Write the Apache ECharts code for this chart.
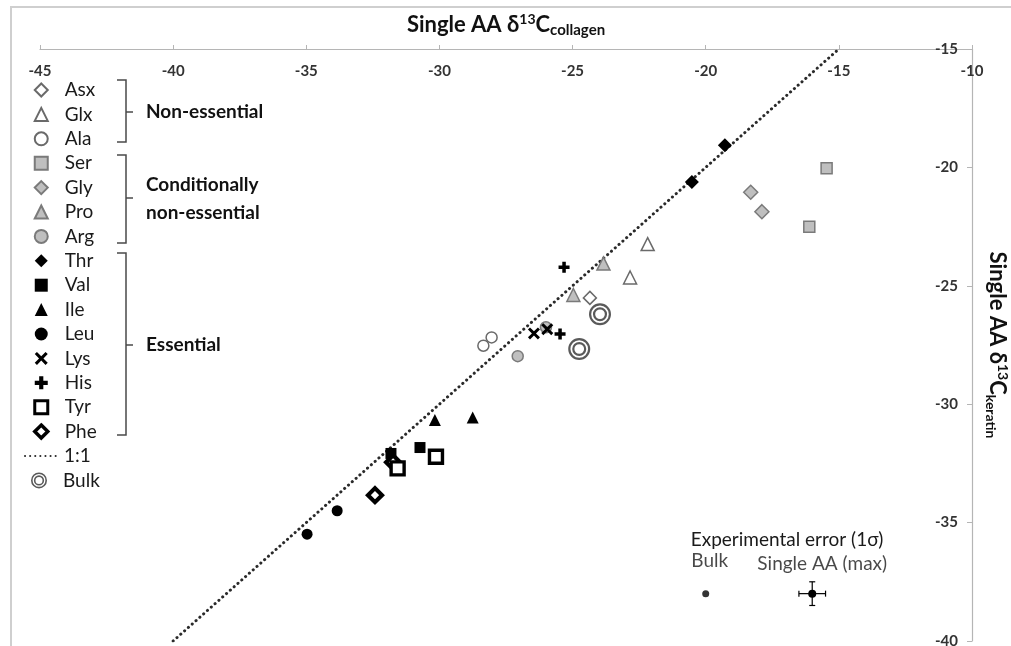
<!DOCTYPE html>
<html>
<head>
<meta charset="utf-8">
<script src="https://cdn.jsdelivr.net/npm/echarts@6/dist/echarts.min.js"></script>
<style>html,body{margin:0;padding:0;background:#fff}#c{width:1011px;height:646px}</style>
</head>
<body>
<div id="c"></div>
<script>
// ---- data (x = collagen δ13C, y = keratin δ13C) ----
const xTicks = [-45, -40, -35, -30, -25, -20, -15, -10];
const yTicks = [-40, -35, -30, -25, -20, -15];
const asx = [[-24.35, -25.51]];
const glx = [[-22.18, -23.24], [-22.84, -24.65]];
const ala = [[-28.35, -27.53], [-28.04, -27.18]];
const ser = [[-15.46, -20.04], [-16.11, -22.51]];
const gly = [[-18.31, -21.05], [-17.89, -21.87]];
const pro = [[-23.84, -24.06], [-24.97, -25.39]];
const arg = [[-27.06, -27.97], [-26.0, -26.75]];
const thr = [[-19.28, -19.06], [-20.52, -20.62]];
const val = [[-30.73, -31.83], [-31.82, -32.08]];
const ile = [[-30.17, -30.67], [-28.75, -30.56]];
const leu = [[-33.84, -34.50], [-34.97, -35.49]];
const lys = [[-26.45, -27.01], [-25.95, -26.83]];
const his = [[-25.32, -24.22], [-25.47, -27.04]];
const tyr = [[-30.13, -32.22], [-31.57, -32.71]];
const phe = [[-32.42, -33.84], [-31.74, -32.45]];
const bulk = [[-23.97, -26.20], [-24.75, -27.67]];
const oneToOne = [[-40, -40], [-15, -15]];
const errBulk = [[-20, -38]];
const errAA = [[-16, -38, 0.5, 0.5]]; // x, y, xErr, yErr
const aaNames = ['Asx','Glx','Ala','Ser','Gly','Pro','Arg','Thr','Val','Ile','Leu','Lys','His','Tyr','Phe'];
const lineName = '1:1';
const bulkName = 'Bulk';

const FONT = 'Lato, "Open Sans", sans-serif';
const GRAY = '#bfbfbf', GBORDER = '#7a7a7a', OBORDER = '#6a6a6a';
const X_PATH = 'path://M1.7,0 L5,3.3 L8.3,0 L10,1.7 L6.7,5 L10,8.3 L8.3,10 L5,6.7 L1.7,10 L0,8.3 L3.3,5 L0,1.7 Z';
const PLUS_PATH = 'path://M3.4,0 H6.6 V3.4 H10 V6.6 H6.6 V10 H3.4 V6.6 H0 V3.4 H3.4 Z';
const RING_PATH = 'path://M0,10 A10,10 0 1,1 20,10 A10,10 0 1,1 0,10 Z M2,10 A8,8 0 1,0 18,10 A8,8 0 1,0 2,10 Z M3.6,10 A6.4,6.4 0 1,1 16.4,10 A6.4,6.4 0 1,1 3.6,10 Z M5.6,10 A4.4,4.4 0 1,0 14.4,10 A4.4,4.4 0 1,0 5.6,10 Z';

function sc(name, data, symbol, size, fill, border, bw, z) {
  return {
    name, type: 'scatter', data, symbol, symbolSize: size, symbolKeepAspect: true,
    itemStyle: { color: fill, borderColor: border, borderWidth: bw, opacity: 1 },
    emphasis: { disabled: true }, z: z || 3
  };
}

const series = [
  {
    name: lineName, type: 'line', data: oneToOne, symbol: 'none', z: 2,
    itemStyle: { color: '#303030' },
    lineStyle: { color: '#2a2a2a', width: 3, type: [0.1, 5], cap: 'round' }
  },
  sc('Ser', ser, 'rect', 11, GRAY, GBORDER, 1.5),
  sc('Gly', gly, 'diamond', 14, GRAY, GBORDER, 1.5),
  sc('Glx', glx, 'triangle', 13, '#fff', OBORDER, 1.5),
  sc('Pro', pro, 'triangle', 13, GRAY, GBORDER, 1.5),
  sc('Asx', asx, 'diamond', 13, '#fff', OBORDER, 1.5),
  sc('Ala', ala, 'circle', 11, '#fff', OBORDER, 1.5),
  sc('Arg', arg, 'circle', 11, GRAY, GBORDER, 1.5),
  sc(bulkName, bulk, RING_PATH, 22, '#5a5a5a', null, 0),
  sc('Thr', thr, 'diamond', 14, '#000', null, 0),
  sc('Val', val, 'rect', 11, '#000', null, 0),
  sc('Ile', ile, 'triangle', 12, '#000', null, 0),
  sc('Leu', leu, 'circle', 11, '#000', null, 0),
  sc('Lys', lys, X_PATH, 12, '#000', null, 0),
  sc('His', his, PLUS_PATH, 11, '#000', null, 0),
  sc('Phe', phe, 'diamond', 14, '#fff', '#000', 4.2),
  sc('Tyr', tyr, 'rect', 13, '#fff', '#000', 3.4),
  {
    name: 'errBulk', type: 'scatter', data: errBulk, symbol: 'circle', symbolSize: 7,
    itemStyle: { color: '#000' },
    label: { show: true, formatter: 'Bulk', position: 'top', distance: 20, offset: [4, 0], color: '#1a1a1a', fontSize: 19, fontFamily: FONT }
  },
  {
    name: 'errAABars', type: 'custom', data: errAA, z: 4,
    renderItem: function (params, api) {
      const x = api.value(0), y = api.value(1), ex = api.value(2), ey = api.value(3);
      const l = api.coord([x - ex, y]), r = api.coord([x + ex, y]);
      const t = api.coord([x, y + ey]), b = api.coord([x, y - ey]);
      const cap = 3, st = { stroke: '#000', lineWidth: 1.2 };
      return {
        type: 'group', children: [
          { type: 'line', shape: { x1: l[0], y1: l[1], x2: r[0], y2: r[1] }, style: st },
          { type: 'line', shape: { x1: l[0], y1: l[1] - cap, x2: l[0], y2: l[1] + cap }, style: st },
          { type: 'line', shape: { x1: r[0], y1: r[1] - cap, x2: r[0], y2: r[1] + cap }, style: st },
          { type: 'line', shape: { x1: t[0], y1: t[1], x2: b[0], y2: b[1] }, style: st },
          { type: 'line', shape: { x1: t[0] - cap, y1: t[1], x2: t[0] + cap, y2: t[1] }, style: st },
          { type: 'line', shape: { x1: b[0] - cap, y1: b[1], x2: b[0] + cap, y2: b[1] }, style: st },
          { type: 'circle', shape: { cx: l[0] + (r[0] - l[0]) / 2, cy: l[1], r: 4 }, style: { fill: '#000' } }
        ]
      };
    }
  },
  {
    name: 'errAALabel', type: 'scatter', data: errAA.map(d => [d[0], d[1]]), symbolSize: 1,
    itemStyle: { color: 'rgba(0,0,0,0)' },
    label: { show: true, formatter: 'Single AA (max)', position: 'top', distance: 20, offset: [10, 0], color: '#1a1a1a', fontSize: 19, fontFamily: FONT }
  }
];

const chart = echarts.init(document.getElementById('c'), null, { renderer: 'canvas' });

const bracket = (yTop, yBot) => ({
  type: 'polyline', silent: true,
  shape: { points: [[117, yTop], [126, yTop], [126, yBot], [117, yBot]] },
  style: { stroke: '#4a4a4a', lineWidth: 1.5, fill: null }
});
const tick = (yMid) => ({
  type: 'line', silent: true,
  shape: { x1: 126, y1: yMid, x2: 133, y2: yMid },
  style: { stroke: '#4a4a4a', lineWidth: 1.5 }
});
const gtext = (x, y, text, opts) => Object.assign({
  type: 'text', silent: true, x, y,
  style: Object.assign({ text, fill: '#111', font: 'bold 19px ' + FONT, textVerticalAlign: 'middle', textAlign: 'left' }, opts || {})
});

const legendText = { fontSize: 19, color: '#1a1a1a', fontFamily: FONT };
const ROW = 24.4, ROW0 = 90;
const legendAA = aaNames.map(n => {
  if (n === 'Tyr') return { name: n, itemStyle: { color: '#fff', borderColor: '#000', borderWidth: 3 } };
  if (n === 'Phe') return { name: n, itemStyle: { color: '#fff', borderColor: '#000', borderWidth: 3.5 } };
  return n;
});

const richName = (sub) => ({
  m: { fontSize: 22, fontWeight: 'bold', color: '#111', fontFamily: FONT, lineHeight: 26, verticalAlign: 'middle' },
  sup: { fontSize: 14, fontWeight: 'bold', color: '#111', fontFamily: FONT, lineHeight: 26, verticalAlign: 'top' },
  sub: { fontSize: sub, fontWeight: 'bold', color: '#111', fontFamily: FONT, lineHeight: 26, verticalAlign: 'bottom', padding: [9, 0, 0, 0] }
});

chart.setOption({
  animation: false,
  backgroundColor: '#fff',
  textStyle: { fontFamily: FONT },
  grid: { left: 40, right: 39, top: 49, bottom: 5, containLabel: false, outerBoundsMode: 'none' },
  xAxis: {
    type: 'value', position: 'top', min: -45, max: -10, interval: 5,
    axisLine: { show: true, lineStyle: { color: '#b5b5b5', width: 1.2 } },
    axisTick: { show: true, inside: false, length: 4, lineStyle: { color: '#b5b5b5' } },
    splitLine: { show: false },
    axisLabel: { inside: true, margin: 15, color: '#333', fontWeight: 'bold', fontSize: 15, fontFamily: FONT },
    name: '{m|Single AA δ}{sup|13}{m|C}{sub|collagen}',
    nameLocation: 'middle', nameGap: 11,
    nameTextStyle: { rich: richName(15) }
  },
  yAxis: {
    type: 'value', position: 'right', min: -40, max: -15, interval: 5,
    axisLine: { show: true, lineStyle: { color: '#b5b5b5', width: 1.2 } },
    axisTick: { show: true, inside: true, length: 5, lineStyle: { color: '#b5b5b5' } },
    splitLine: { show: false },
    axisLabel: { inside: true, margin: 14, color: '#333', fontWeight: 'bold', fontSize: 15, fontFamily: FONT },
    name: '{m|Single AA δ}{sup|13}{m|C}{sub|keratin}',
    nameLocation: 'middle', nameGap: 12, nameRotate: -90,
    nameTextStyle: { rich: richName(14) }
  },
  legend: [
    {
      data: legendAA, orient: 'vertical', left: 33, top: ROW0 - 9.5, padding: 0,
      itemWidth: 13, itemHeight: 13, itemGap: ROW - 19, selectedMode: false,
      textStyle: Object.assign({ padding: [0, 0, 0, 12] }, legendText)
    },
    {
      data: [lineName], orient: 'vertical', left: 24, top: ROW0 + 15 * ROW - 9.5, padding: 0,
      itemWidth: 34, itemHeight: 13, selectedMode: false,
      itemStyle: { color: 'rgba(0,0,0,0)', borderWidth: 0 },
      textStyle: legendText
    },
    {
      data: [bulkName], orient: 'vertical', left: 31, top: ROW0 + 16 * ROW - 9.5, padding: 0,
      itemWidth: 16, itemHeight: 16, selectedMode: false,
      textStyle: Object.assign({ padding: [0, 0, 0, 11] }, legendText)
    }
  ],
  graphic: [
    { type: 'rect', silent: true, shape: { x: 11, y: 7, width: 1200, height: 800 }, style: { fill: null, stroke: '#cfcfcf', lineWidth: 2 } },
    bracket(80, 142), tick(112),
    bracket(155, 243), tick(198),
    bracket(253, 435), tick(345),
    gtext(146, 112, 'Non-essential'),
    gtext(146, 185, 'Conditionally'),
    gtext(146, 213, 'non-essential'),
    gtext(146, 345, 'Essential'),
    gtext(787, 540, 'Experimental error (1σ)', { font: '19px ' + FONT, textAlign: 'center', fill: '#1a1a1a' })
  ],
  series
});
</script>
</body>
</html>
